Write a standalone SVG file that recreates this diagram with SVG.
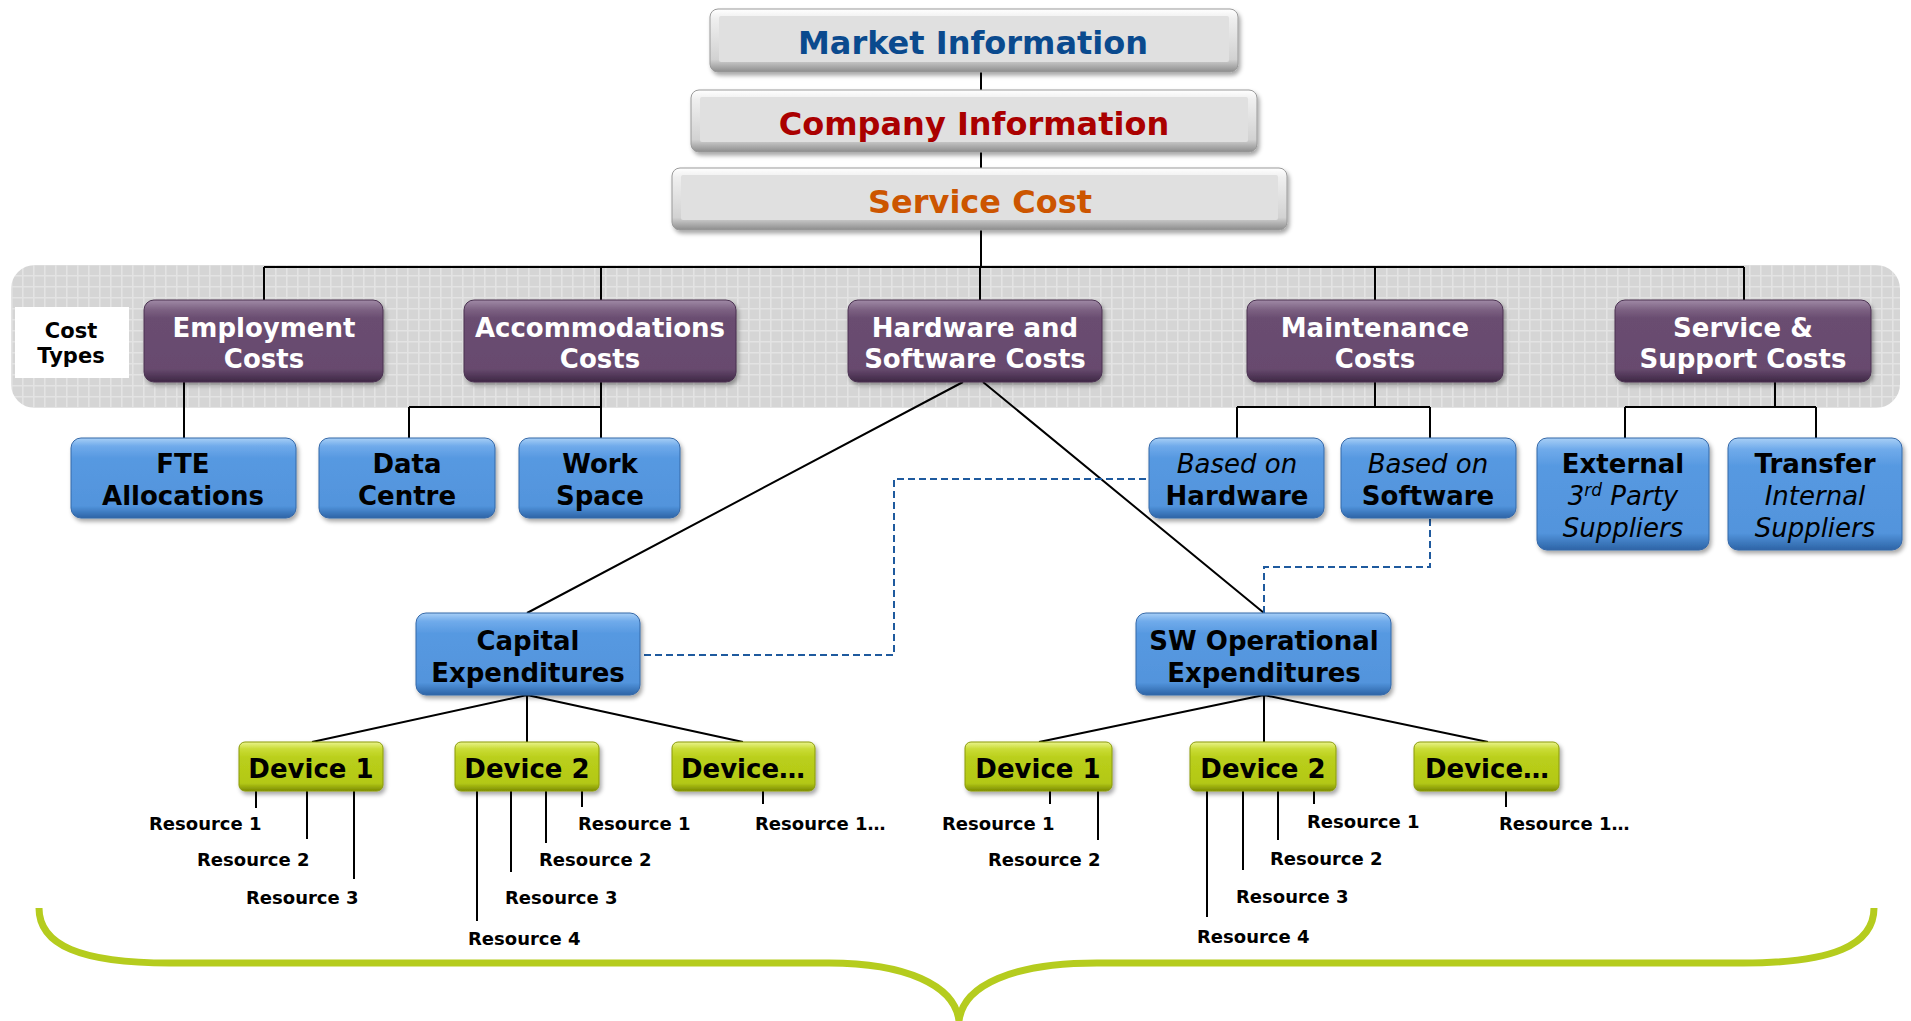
<svg xmlns="http://www.w3.org/2000/svg" width="1911" height="1021" viewBox="0 0 1911 1021">
<defs>
<style>
.t{font-family:"DejaVu Sans","Liberation Sans",sans-serif;font-weight:bold;text-anchor:middle}
.i{font-weight:normal;font-style:italic}
.top{font-size:32px}
.pt{font-size:26px;fill:#fff}
.bt{font-size:26px;fill:#000}
.rs{font-family:"DejaVu Sans","Liberation Sans",sans-serif;font-weight:bold;font-size:18px;fill:#000}
.ln{stroke:#000;stroke-width:2;fill:none}
.dl{stroke:#1F5A9E;stroke-width:2;fill:none;stroke-dasharray:7 4}
.gray{fill:url(#gGray);stroke:#9A9A9A;stroke-width:1}
.face{fill:#E0E0E0}
.pur{fill:url(#gPur);stroke:#4A3151;stroke-width:1}
.blu{fill:url(#gBlu);stroke:#3568A8;stroke-width:1}
.dev{fill:url(#gDev);stroke:#8A9A0C;stroke-width:1}
</style>
<linearGradient id="gGray" x1="0" y1="0" x2="0" y2="1">
<stop offset="0" stop-color="#FFFFFF"/><stop offset="0.15" stop-color="#EFEFEF"/><stop offset="0.8" stop-color="#D2D2D2"/><stop offset="1" stop-color="#8C8C8C"/>
</linearGradient>
<linearGradient id="gPur" x1="0" y1="0" x2="0" y2="1">
<stop offset="0" stop-color="#A08AA6"/><stop offset="0.12" stop-color="#7C6182"/><stop offset="0.22" stop-color="#6A4D71"/><stop offset="0.84" stop-color="#674A6E"/><stop offset="1" stop-color="#3E2845"/>
</linearGradient>
<linearGradient id="gBlu" x1="0" y1="0" x2="0" y2="1">
<stop offset="0" stop-color="#A8CFF6"/><stop offset="0.1" stop-color="#70ABEB"/><stop offset="0.25" stop-color="#5799E1"/><stop offset="0.85" stop-color="#5294DC"/><stop offset="1" stop-color="#2D64A6"/>
</linearGradient>
<linearGradient id="gDev" x1="0" y1="0" x2="0" y2="1">
<stop offset="0" stop-color="#EAF38E"/><stop offset="0.14" stop-color="#CADC36"/><stop offset="0.32" stop-color="#BACF1B"/><stop offset="0.84" stop-color="#B3C816"/><stop offset="1" stop-color="#7C8C00"/>
</linearGradient>
<pattern id="grid" width="11" height="11" patternUnits="userSpaceOnUse">
<rect width="11" height="11" fill="#D5D5D5"/>
<path d="M0 0.8H11M0.8 0V11" stroke="#E3E3E3" stroke-width="1.6"/>
</pattern>
<filter id="sh" x="-10%" y="-20%" width="125%" height="150%">
<feDropShadow dx="2" dy="3" stdDeviation="2" flood-color="#000" flood-opacity="0.35"/>
</filter>
</defs>
<rect width="1911" height="1021" fill="#FFFFFF"/>

<g id="band">
<rect x="11" y="265" width="1889" height="143" rx="24" fill="url(#grid)"/>
</g>

<g id="connectors">
<path class="ln" d="M981 72V90M981 152V168M981 230V267"/>
<path class="ln" d="M264 267H1744M264 267V300M601 267V300M980 267V300M1375 267V300M1744 267V300"/>
<path class="ln" d="M184 382V438"/>
<path class="ln" d="M601 382V438M409 407H601M409 407V438"/>
<path class="ln" d="M1375 382V407M1237 407H1430M1237 407V438M1430 407V438"/>
<path class="ln" d="M1775 382V407M1625 407H1816M1625 407V438M1816 407V438"/>
<path class="ln" d="M963 382L527 613M983 382L1264 613"/>
<path class="dl" d="M644 655H894V479H1149"/>
<path class="dl" d="M1430 519V567H1264V613"/>
<path class="ln" d="M527 695L312 742M527 695V742M527 695L743 742"/>
<path class="ln" d="M1264 695L1039 742M1264 695V742M1264 695L1488 742"/>
<path class="ln" d="M256 791V808M307 791V839M354 791V879M477 791V921M511 791V872M546 791V843M582 791V807M763 791V804"/>
<path class="ln" d="M1050 791V804M1098 791V840M1207 791V917M1243 791V870M1278 791V840M1314 791V804M1506 791V807"/>
</g>

<g id="market">
<rect class="gray" x="710" y="9" width="528" height="63" rx="8" filter="url(#sh)"/>
<rect class="face" x="719" y="16" width="510" height="46" rx="2"/>
<text class="t top" x="973" y="54" fill="#0A4A8E">Market Information</text>
</g>
<g id="company">
<rect class="gray" x="691" y="90" width="566" height="62" rx="8" filter="url(#sh)"/>
<rect class="face" x="700" y="97" width="548" height="45" rx="2"/>
<text class="t top" x="974" y="135" fill="#AA0000">Company Information</text>
</g>
<g id="service">
<rect class="gray" x="672" y="168" width="615" height="62" rx="8" filter="url(#sh)"/>
<rect class="face" x="681" y="175" width="597" height="45" rx="2"/>
<text class="t top" x="980" y="213" fill="#CC5500">Service Cost</text>
</g>

<g id="costtypes">
<rect x="15" y="307" width="114" height="71" fill="#FFFFFF"/>
<text class="t" x="71" y="338" font-size="21">Cost</text>
<text class="t" x="71" y="363" font-size="21">Types</text>
</g>

<g id="employment">
<rect class="pur" x="144" y="300" width="239" height="82" rx="10" filter="url(#sh)"/>
<text class="t pt" x="264" y="337">Employment</text>
<text class="t pt" x="264" y="368">Costs</text>
</g>
<g id="accommodations">
<rect class="pur" x="464" y="300" width="272" height="82" rx="10" filter="url(#sh)"/>
<text class="t pt" x="600" y="337">Accommodations</text>
<text class="t pt" x="600" y="368">Costs</text>
</g>
<g id="hwsw">
<rect class="pur" x="848" y="300" width="254" height="82" rx="10" filter="url(#sh)"/>
<text class="t pt" x="975" y="337">Hardware and</text>
<text class="t pt" x="975" y="368">Software Costs</text>
</g>
<g id="maintenance">
<rect class="pur" x="1247" y="300" width="256" height="82" rx="10" filter="url(#sh)"/>
<text class="t pt" x="1375" y="337">Maintenance</text>
<text class="t pt" x="1375" y="368">Costs</text>
</g>
<g id="servicesupport">
<rect class="pur" x="1615" y="300" width="256" height="82" rx="10" filter="url(#sh)"/>
<text class="t pt" x="1743" y="337">Service &amp;</text>
<text class="t pt" x="1743" y="368">Support Costs</text>
</g>

<g id="fte">
<rect class="blu" x="71" y="438" width="225" height="80" rx="10" filter="url(#sh)"/>
<text class="t bt" x="183" y="473">FTE</text>
<text class="t bt" x="183" y="505">Allocations</text>
</g>
<g id="datacentre">
<rect class="blu" x="319" y="438" width="176" height="80" rx="10" filter="url(#sh)"/>
<text class="t bt" x="407" y="473">Data</text>
<text class="t bt" x="407" y="505">Centre</text>
</g>
<g id="workspace">
<rect class="blu" x="519" y="438" width="161" height="80" rx="10" filter="url(#sh)"/>
<text class="t bt" x="600" y="473">Work</text>
<text class="t bt" x="600" y="505">Space</text>
</g>
<g id="basedhw">
<rect class="blu" x="1149" y="438" width="175" height="80" rx="10" filter="url(#sh)"/>
<text class="t bt i" x="1237" y="473">Based on</text>
<text class="t bt" x="1237" y="505">Hardware</text>
</g>
<g id="basedsw">
<rect class="blu" x="1341" y="438" width="175" height="80" rx="10" filter="url(#sh)"/>
<text class="t bt i" x="1428" y="473">Based on</text>
<text class="t bt" x="1428" y="505">Software</text>
</g>
<g id="external">
<rect class="blu" x="1537" y="438" width="172" height="112" rx="10" filter="url(#sh)"/>
<text class="t bt" x="1623" y="473">External</text>
<text class="t bt i" x="1623" y="505">3<tspan font-size="17" dy="-9">rd</tspan><tspan dy="9"> Party</tspan></text>
<text class="t bt i" x="1623" y="537">Suppliers</text>
</g>
<g id="transfer">
<rect class="blu" x="1728" y="438" width="174" height="112" rx="10" filter="url(#sh)"/>
<text class="t bt" x="1815" y="473">Transfer</text>
<text class="t bt i" x="1815" y="505">Internal</text>
<text class="t bt i" x="1815" y="537">Suppliers</text>
</g>

<g id="capex">
<rect class="blu" x="416" y="613" width="224" height="82" rx="10" filter="url(#sh)"/>
<text class="t bt" x="528" y="650">Capital</text>
<text class="t bt" x="528" y="682">Expenditures</text>
</g>
<g id="swopex">
<rect class="blu" x="1136" y="613" width="255" height="82" rx="10" filter="url(#sh)"/>
<text class="t bt" x="1264" y="650">SW Operational</text>
<text class="t bt" x="1264" y="682">Expenditures</text>
</g>

<g id="cap-device1">
<rect class="dev" x="239" y="742" width="144" height="49" rx="6" filter="url(#sh)"/>
<text class="t bt" x="311" y="778">Device 1</text>
</g>
<g id="cap-device2">
<rect class="dev" x="455" y="742" width="144" height="49" rx="6" filter="url(#sh)"/>
<text class="t bt" x="527" y="778">Device 2</text>
</g>
<g id="cap-device3">
<rect class="dev" x="672" y="742" width="143" height="49" rx="6" filter="url(#sh)"/>
<text class="t bt" x="743" y="778">Device…</text>
</g>
<g id="sw-device1">
<rect class="dev" x="965" y="742" width="147" height="49" rx="6" filter="url(#sh)"/>
<text class="t bt" x="1038" y="778">Device 1</text>
</g>
<g id="sw-device2">
<rect class="dev" x="1190" y="742" width="146" height="49" rx="6" filter="url(#sh)"/>
<text class="t bt" x="1263" y="778">Device 2</text>
</g>
<g id="sw-device3">
<rect class="dev" x="1414" y="742" width="145" height="49" rx="6" filter="url(#sh)"/>
<text class="t bt" x="1487" y="778">Device…</text>
</g>

<g id="resources">
<text class="rs" x="149" y="830">Resource 1</text>
<text class="rs" x="197" y="866">Resource 2</text>
<text class="rs" x="246" y="904">Resource 3</text>
<text class="rs" x="468" y="945">Resource 4</text>
<text class="rs" x="505" y="904">Resource 3</text>
<text class="rs" x="539" y="866">Resource 2</text>
<text class="rs" x="578" y="830">Resource 1</text>
<text class="rs" x="755" y="830">Resource 1…</text>
<text class="rs" x="942" y="830">Resource 1</text>
<text class="rs" x="988" y="866">Resource 2</text>
<text class="rs" x="1197" y="943">Resource 4</text>
<text class="rs" x="1236" y="903">Resource 3</text>
<text class="rs" x="1270" y="865">Resource 2</text>
<text class="rs" x="1307" y="828">Resource 1</text>
<text class="rs" x="1499" y="830">Resource 1…</text>
</g>

<g id="brace">
<path d="M39 908C39 945 80 963 170 963H829C905 963 955 985 959 1021C963 985 1013 963 1097 963H1743C1833 963 1874 945 1874 908" fill="none" stroke="#B5CC1E" stroke-width="7"/>
</g>
</svg>
